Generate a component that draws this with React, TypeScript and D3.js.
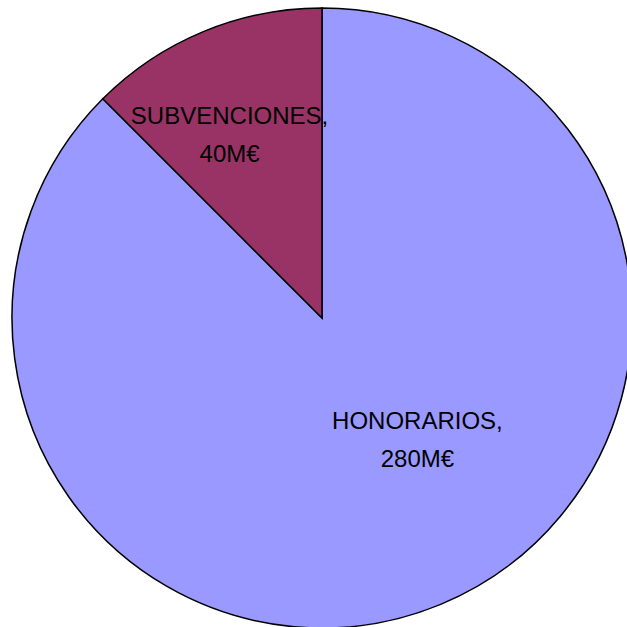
import React, { useEffect, useRef } from 'react';
import * as d3 from 'd3';

const categories = ['HONORARIOS', 'SUBVENCIONES'];
const values = [280, 40];
const valueLabels = ['280M€', '40M€'];
const colors = ['#9999FF', '#993366'];

const WIDTH = 627;
const HEIGHT = 627;

interface Slice {
  name: string;
  value: number;
  label: string;
  color: string;
}

const App: React.FC = () => {
  const ref = useRef<SVGSVGElement>(null);

  useEffect(() => {
    if (!ref.current) return;
    const root = d3.select(ref.current);
    root.selectAll('*').remove();

    const data: Slice[] = categories.map((name, i) => ({
      name,
      value: values[i],
      label: valueLabels[i],
      color: colors[i]
    }));

    const cx = 322;
    const cy = 318;
    const radius = 310;

    const g = root.append('g').attr('transform', `translate(${cx},${cy})`);

    const pie = d3.pie<Slice>()
      .value(d => d.value)
      .sort(null)
      .startAngle(0)
      .endAngle(2 * Math.PI);

    const arcs = pie(data);

    const arc = d3.arc<d3.PieArcDatum<Slice>>()
      .innerRadius(0)
      .outerRadius(radius);

    g.selectAll('path.slice')
      .data(arcs)
      .enter()
      .append('path')
      .attr('class', 'slice')
      .attr('d', arc)
      .attr('fill', d => d.data.color)
      .attr('stroke', '#000')
      .attr('stroke-width', 1.5)
      .attr('stroke-linejoin', 'miter');

    // label placement: centroid at a chosen radius, then a small nudge (Excel best-fit look)
    const labelRadius = [150, 205];
    const nudge = [[38, -18], [-14, 5]];

    arcs.forEach((a, i) => {
      const la = d3.arc<d3.PieArcDatum<Slice>>()
        .innerRadius(labelRadius[i])
        .outerRadius(labelRadius[i]);
      const [x, y] = la.centroid(a);
      const tx = x + nudge[i][0];
      const ty = y + nudge[i][1];

      const text = g.append('text')
        .attr('text-anchor', 'middle')
        .attr('font-family', 'Liberation Sans, Arial, sans-serif')
        .attr('font-size', 24)
        .attr('fill', '#000');

      text.append('tspan')
        .attr('x', tx)
        .attr('y', ty - 10)
        .text(`${a.data.name},`);

      text.append('tspan')
        .attr('x', tx)
        .attr('y', ty + 28)
        .text(a.data.label);
    });
  }, []);

  return (
    <div style={{ position: 'absolute', left: 0, top: 0, width: WIDTH, height: HEIGHT, background: '#fff', overflow: 'hidden' }}>
      <svg ref={ref} width={WIDTH} height={HEIGHT} />
    </div>
  );
};

export default App;
